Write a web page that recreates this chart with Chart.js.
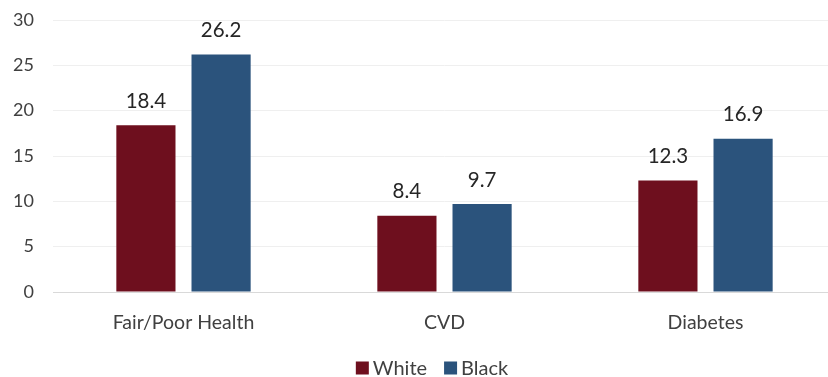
<!DOCTYPE html>
<html>
<head>
<meta charset="utf-8">
<script src="https://cdn.jsdelivr.net/npm/chart.js@4.4.1/dist/chart.umd.min.js"></script>
<style>
  html, body { margin: 0; padding: 0; background: #ffffff; overflow: hidden; }
  #wrap { width: 828px; height: 377px; overflow: hidden; position: relative; }
  #box { width: 836px; height: 377px; position: absolute; left: 0; top: 0; }
</style>
</head>
<body>
<div id="wrap"><div id="box"><canvas id="c"></canvas></div></div>
<script>
const categories = ['Fair/Poor Health', 'CVD', 'Diabetes'];
const whiteValues = [18.4, 8.4, 12.3];
const blackValues = [26.2, 9.7, 16.9];
const yTicks = [0, 5, 10, 15, 20, 25, 30];

const FONT = 'Lato, "Open Sans", sans-serif';
const TEXT = '#404040';

// Draws each bar's value centred above it
const valueLabels = {
  id: 'valueLabels',
  afterDatasetsDraw(chart) {
    const ctx = chart.ctx;
    ctx.save();
    ctx.font = '20.5px ' + FONT;
    ctx.fillStyle = '#262626';
    ctx.textAlign = 'center';
    ctx.textBaseline = 'middle';
    chart.data.datasets.forEach((ds, i) => {
      chart.getDatasetMeta(i).data.forEach((bar, j) => {
        ctx.fillText(ds.data[j].toFixed(1), bar.x, bar.y - 24);
      });
    });
    ctx.restore();
  }
};

// Compact legend row: small square swatch, tight gap, then the series name
const swatchLegend = {
  id: 'swatchLegend',
  afterDraw(chart, args, opts) {
    const ctx = chart.ctx;
    ctx.save();
    ctx.font = opts.fontSize + 'px ' + FONT;
    ctx.textBaseline = 'middle';
    ctx.textAlign = 'left';
    const items = chart.data.datasets.map(ds => ({
      text: ds.label, color: ds.backgroundColor, w: ctx.measureText(ds.label).width
    }));
    const total = items.reduce((s, it) => s + opts.box + opts.gap + it.w, 0) + opts.spacing * (items.length - 1);
    let x = opts.centerX - total / 2;
    items.forEach(it => {
      ctx.fillStyle = it.color;
      ctx.fillRect(x, opts.y - opts.box / 2, opts.box, opts.box);
      x += opts.box + opts.gap;
      ctx.fillStyle = TEXT;
      ctx.fillText(it.text, x, opts.y + 1);
      x += it.w + opts.spacing;
    });
    ctx.restore();
  }
};

new Chart(document.getElementById('c'), {
  type: 'bar',
  data: {
    labels: categories,
    datasets: [
      { label: 'White', data: whiteValues, backgroundColor: '#6E0F1E' },
      { label: 'Black', data: blackValues, backgroundColor: '#2B537C' }
    ]
  },
  options: {
    responsive: true,
    maintainAspectRatio: false,
    animation: false,
    datasets: { bar: { categoryPercentage: 0.576, barPercentage: 0.787 } },
    layout: { padding: 0 },
    plugins: {
      tooltip: { enabled: false },
      legend: { display: false },
      swatchLegend: { centerX: 432, y: 368, box: 13, gap: 4, spacing: 17, fontSize: 20 }
    },
    scales: {
      x: {
        afterFit(scale) { scale.height = 85; },
        grid: { display: false, drawTicks: false },
        border: { color: '#d9d9d9', width: 1 },
        ticks: { font: { family: FONT, size: 19.5 }, color: TEXT, padding: 19 }
      },
      y: {
        min: 0, max: 30,
        afterFit(scale) { scale.width = 53; scale.paddingTop = 20; scale.paddingBottom = 0; },
        afterBuildTicks(scale) { scale.ticks = yTicks.map(v => ({ value: v })); },
        grid: { color: '#efefef', drawTicks: false },
        border: { display: false },
        ticks: { font: { family: FONT, size: 18 }, color: TEXT, padding: 19 }
      }
    }
  },
  plugins: [valueLabels, swatchLegend]
});
</script>
</body>
</html>
